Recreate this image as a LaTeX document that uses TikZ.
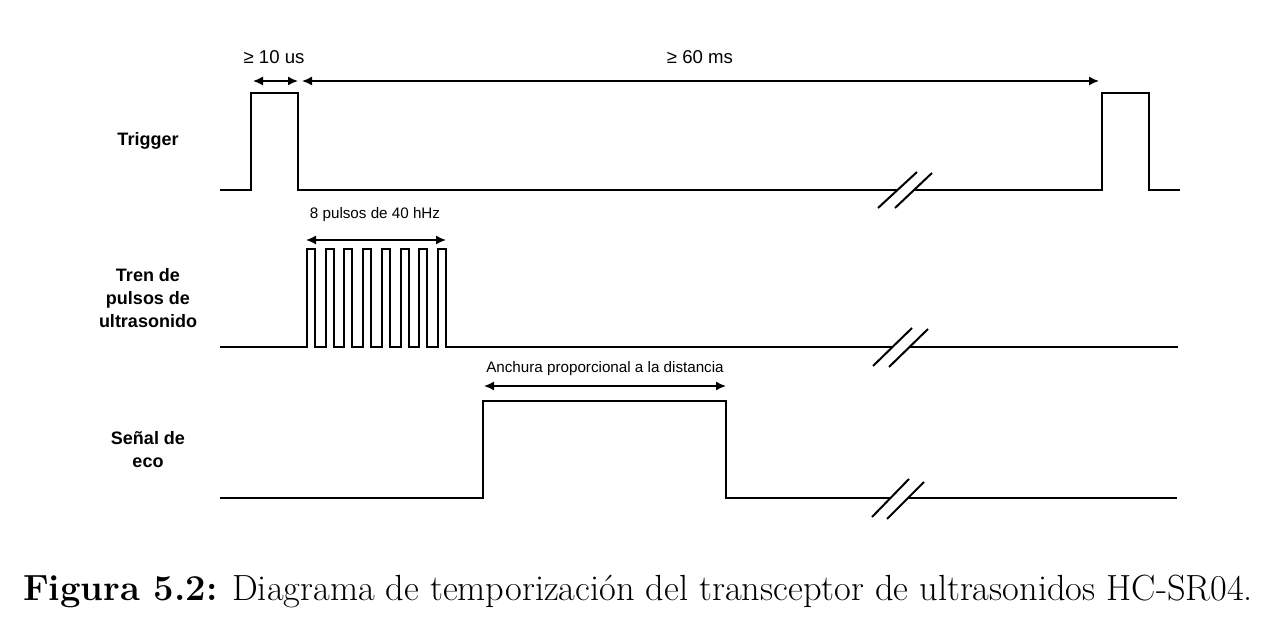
\documentclass[tikz,border=0pt]{standalone}
\usepackage{fontspec}
\newfontfamily\arial{Liberation Sans}
\usetikzlibrary{arrows.meta}

\tikzset{
  wave/.style = {line width=1pt, line join=miter},
  dimline/.style = {line width=0.75pt, {Latex[length=5pt,width=4.5pt]}-{Latex[length=5pt,width=4.5pt]}},
  signame/.style = {font=\arial\fontsize{9}{11.5}\selectfont\bfseries, align=center},
  dimtext/.style = {font=\arial\fontsize{7.6}{9}\selectfont}
}

\begin{document}
\begin{tikzpicture}[x=0.5pt,y=-0.5pt]
\useasboundingbox (0,0) rectangle (1287,636);

% signal names
\node[signame] (trig) at (148,141) {Trigger};
\node[signame] (tren) at (148,298) {Tren de\\pulsos de\\ultrasonido};
\node[signame] (eco) at (148,450) {Señal de\\eco};

% trigger
\draw[wave] (220,190)--(251,190)--(251,93)--(298,93)--(298,190)--(897,190);
\draw[wave] (914,190)--(1102,190)--(1102,93)--(1149,93)--(1149,190)--(1180,190);
\draw[wave] (878,208)--(917,172);
\draw[wave] (895,208)--(932,173);

% ultrasound burst
\draw[wave] (220,347)--(307,347) \foreach \i in {1,...,8} {--++(0,-98)--++(8,0)--++(0,98)--++(10.7,0)} --(892,347);
\draw[wave] (909,347)--(1178,347);
\draw[wave] (873,366)--(912,328);
\draw[wave] (889,367)--(928,329);

% echo
\draw[wave] (220,498)--(483,498)--(483,401)--(726,401)--(726,498)--(890,498);
\draw[wave] (908,498)--(1177,498);
\draw[wave] (872,517)--(909,479);
\draw[wave] (887,519)--(924,482);

% dimensions
\coordinate (a1) at (253,81);
\coordinate (a2) at (298,81);
\coordinate (b1) at (302,81);
\coordinate (b2) at (1099,81);
\coordinate (c1) at (306,240);
\coordinate (c2) at (446,240);
\coordinate (d1) at (484,386);
\coordinate (d2) at (726,386);
\draw[dimline] (a1)--(a2);
\draw[dimline] (b1)--(b2);
\draw[dimline] (c1)--(c2);
\draw[dimline] (d1)--(d2);
\node[font=\arial\fontsize{9.3}{11}\selectfont] (tmin) at (274,57) {≥ 10 us};
\node[font=\arial\fontsize{9.3}{11}\selectfont] (tcyc) at (700,57) {≥ 60 ms};
\node[dimtext] (npul) at (375,215) {8 pulsos de 40 hHz};
\node[dimtext] (anch) at (605,369) {Anchura proporcional a la distancia};

% caption
\node[font=\fontsize{18.2}{21}\selectfont] (cap) at (638,591) {\textbf{Figura 5.2:} Diagrama de temporización del transceptor de ultrasonidos HC-SR04.};
\end{tikzpicture}
\end{document}
